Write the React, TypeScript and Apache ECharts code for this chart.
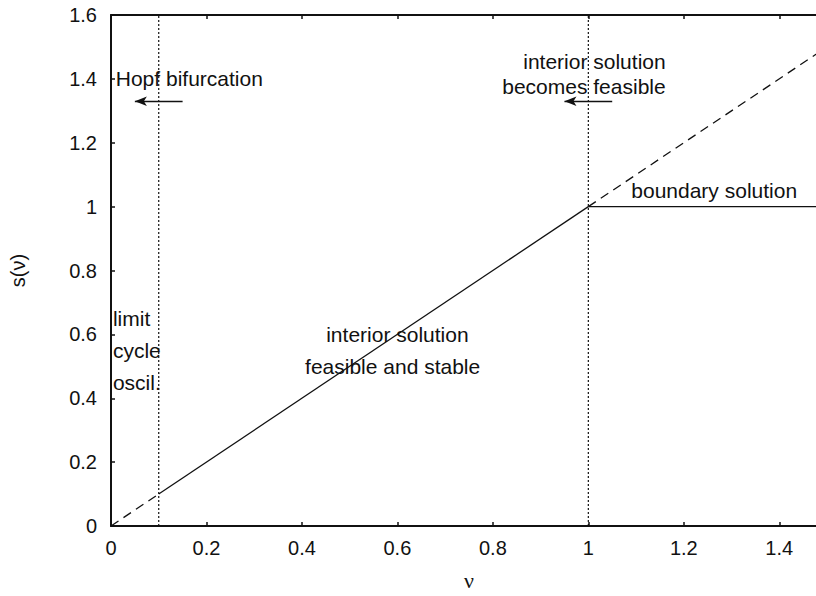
import React, { useEffect, useRef } from "react";
import * as echarts from "echarts";

// Axis ranges and ticks
const X_MIN = 0;
const X_MAX = 1.5;
const X_STEP = 0.2;
const Y_MIN = 0;
const Y_MAX = 1.6;
const Y_STEP = 0.2;

// Curves (nu, s)
const diagDashLow = [[0, 0], [0.1, 0.1]];
const diagSolid = [[0.1, 0.1], [1, 1]];
const diagDashHigh = [[1, 1], [1.5, 1.5]];
const boundarySolution = [[1, 1], [1.5, 1]];
const hopfLine = [[0.1, 0], [0.1, 1.6]];
const feasibleLine = [[1, 0], [1, 1.6]];

// Arrows: [from, to]
const arrows = [
  [[0.15, 1.33], [0.05, 1.33]],
  [[1.05, 1.33], [0.95, 1.33]],
];

// Text annotations: [x, y, text]
const leftLabels: [number, number, string][] = [
  [0.01, 1.4, "Hopf bifurcation"],
  [1.09, 1.05, "boundary solution"],
  [0.004, 0.65, "limit"],
  [0.004, 0.55, "cycle"],
  [0.004, 0.45, "oscil."],
];
const rightLabels: [number, number, string][] = [
  [1.162, 1.453, "interior solution"],
  [1.162, 1.375, "becomes feasible"],
];
const centerLabels: [number, number, string][] = [
  [0.6, 0.6, "interior solution"],
  [0.59, 0.5, "feasible and stable"],
];

const FONT = "Liberation Sans";
const FS = 20;
const FS_NOTE = 21;
const INK = "#111";

export default function App() {
  const ref = useRef<HTMLDivElement>(null);
  useEffect(() => {
    if (!ref.current) return;
    const chart = echarts.init(ref.current, null, { renderer: "svg" });

    const lineSeries = (data: number[][], type: any, width = 1.3) => ({
      type: "line",
      data,
      symbol: "none",
      silent: true,
      lineStyle: { color: INK, width, type },
      z: 3,
    });

    const labelSeries = (items: [number, number, string][], position: string) => ({
      type: "scatter",
      symbolSize: 0,
      silent: true,
      itemStyle: { opacity: 1 },
      data: items.map(([x, y, t]) => ({ value: [x, y], name: t })),
      label: {
        show: true,
        position,
        distance: 0,
        formatter: (p: any) => p.name,
        color: INK,
        opacity: 1,
        textBorderWidth: 0,
        fontFamily: FONT,
        fontSize: FS_NOTE,
      },
      z: 5,
    });

    const axisCommon = {
      axisLine: { show: true, onZero: false, lineStyle: { color: INK, width: 2 } },
      axisTick: { show: true, inside: true, length: 4, lineStyle: { color: INK, width: 1.5 } },
      splitLine: { show: false },
    };

    chart.setOption({
      animation: false,
      backgroundColor: "#fff",
      grid: { left: 110, top: 15, right: 13, bottom: 65, containLabel: false },
      xAxis: [
        {
          type: "value",
          min: X_MIN,
          max: X_MAX,
          interval: X_STEP,
          position: "bottom",
          ...axisCommon,
          axisLabel: {
            show: true,
            margin: 12,
            color: INK,
            fontFamily: FONT,
            fontSize: FS,
            showMaxLabel: false,
          },
          name: "ν",
          nameLocation: "middle",
          nameGap: 43,
          nameTextStyle: { color: INK, fontFamily: "Liberation Serif", fontSize: 22 },
        },
        {
          type: "value",
          min: X_MIN,
          max: X_MAX,
          interval: X_STEP,
          position: "top",
          ...axisCommon,
          axisLabel: { show: false },
        },
      ],
      yAxis: [
        {
          type: "value",
          min: Y_MIN,
          max: Y_MAX,
          interval: Y_STEP,
          position: "left",
          ...axisCommon,
          axisLabel: {
            show: true,
            margin: 14,
            color: INK,
            fontFamily: FONT,
            fontSize: FS,
          },
          name: "s(ν)",
          nameLocation: "middle",
          nameRotate: 90,
          nameGap: 83,
          nameTextStyle: { color: INK, fontFamily: FONT, fontSize: FS },
        },
      ],
      series: [
        lineSeries(diagDashLow, [9, 6]),
        lineSeries(diagSolid, "solid"),
        lineSeries(diagDashHigh, [9, 6]),
        lineSeries(boundarySolution, "solid"),
        lineSeries(hopfLine, [2, 2], 1.2),
        lineSeries(feasibleLine, [2, 2], 1.2),
        {
          type: "line",
          data: [],
          silent: true,
          markLine: {
            silent: true,
            symbol: ["none", "arrow"],
            symbolSize: [7, 12],
            label: { show: false },
            lineStyle: { color: INK, width: 1.3, type: "solid" },
            data: arrows.map(([a, b]) => [{ coord: a }, { coord: b }]),
          },
        },
        labelSeries(leftLabels, "right"),
        labelSeries(rightLabels, "left"),
        labelSeries(centerLabels, "inside"),
      ],
    });
    return () => chart.dispose();
  }, []);
  return (
    <div
      style={{
        position: "fixed",
        left: 0,
        top: 0,
        width: 816,
        height: 596,
        overflow: "hidden",
        background: "#fff",
      }}
    >
      <div ref={ref} style={{ width: 840, height: 596 }} />
    </div>
  );
}
